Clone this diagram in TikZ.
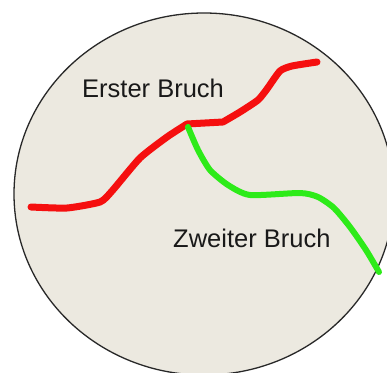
\documentclass[tikz,border=0pt]{standalone}
\usepackage{fontspec}
\setmainfont{Liberation Sans}
\definecolor{disc}{RGB}{236,233,224}
\definecolor{rim}{RGB}{40,40,40}
\definecolor{redcrack}{RGB}{245,15,15}
\definecolor{greencrack}{RGB}{45,235,25}
\tikzset{
  label text/.style={inner sep=0pt, anchor=base west, text=black!90,
    font=\fontsize{25.5}{30}\selectfont},
  crackline/.style={line width=#1, line cap=round, line join=round},
}
\begin{document}
\begin{tikzpicture}[x=1pt,y=-1pt]
\useasboundingbox (0,0) rectangle (387,372);
\clip (0,0) rectangle (387,372);
\fill[white] (0,0) rectangle (387,372);
\draw[rim, fill=disc, line width=1.3pt] (204,194) ellipse [x radius=190, y radius=181];
\coordinate (junction) at (187,124);
\draw[redcrack, crackline=7pt] plot[smooth, tension=0.35] coordinates
  {(31,207) (67,208) (100,202) (112,191) (140,158) (167,137) (187,124)}
  -- (223,122)
  plot[smooth, tension=0.35] coordinates
  {(223,122) (240,112) (258,100) (267,89) (280,71) (292,66) (317,62)};
\draw[greencrack, crackline=6pt] plot[smooth, tension=0.4] coordinates
  {(188,127) (198,150) (210,170) (228,185) (250,195) (300,193) (318,197) (334,208) (350,227) (366,250) (379,272)};
\node[label text] (erster) at (82,97) {Erster Bruch};
\node[label text] (zweiter) at (173,247) {Zweiter Bruch};
\end{tikzpicture}
\end{document}
